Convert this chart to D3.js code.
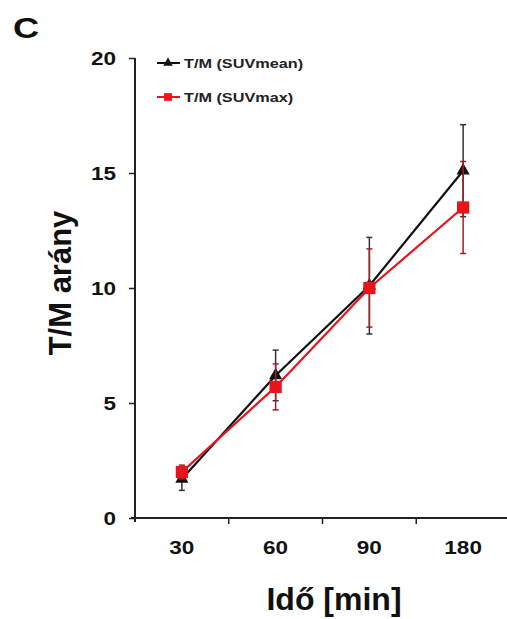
<!DOCTYPE html>
<html>
<head>
<meta charset="utf-8">
<script src="https://cdn.jsdelivr.net/npm/d3@7"></script>
<style>
  body { margin: 0; background: #fff; }
  text { font-family: "Liberation Sans", Arial, sans-serif; font-weight: bold; }
</style>
</head>
<body>
<svg width="507" height="619"></svg>
<script>
var times = ["30", "60", "90", "180"];
var yTicks = [0, 5, 10, 15, 20];

var suvMean = [1.7, 6.2, 10.1, 15.1];
var suvMeanErr = [0.5, 1.1, 2.1, 2.0];
var suvMax = [2.0, 5.7, 10.0, 13.5];
var suvMaxErr = [0.3, 1.0, 1.7, 2.0];

var seriesNames = ["T/M (SUVmean)", "T/M (SUVmax)"];

var svg = d3.select("svg");
var STRETCH = 1.25; // the small text of the original is wide

var x = d3.scaleBand().domain(times).range([135, 510]);
var y = d3.scaleLinear().domain([0, 20]).range([518, 58]);

// axes
var yAxis = d3.axisLeft(y).tickValues(yTicks).tickSize(6).tickSizeOuter(0).tickPadding(0);
var gy = svg.append("g").attr("transform", "translate(135,0)").call(yAxis);
gy.select(".domain").attr("d", "M0,58V522").attr("stroke", "#222").attr("stroke-width", 2);
gy.selectAll(".tick line").attr("stroke", "#222").attr("stroke-width", 1.5);
gy.selectAll(".tick text").attr("font-size", 18).attr("fill", "#111")
  .attr("font-family", "Liberation Sans").attr("font-weight", "bold")
  .attr("x", -19 / STRETCH).attr("dy", "0.35em")
  .attr("transform", "scale(" + STRETCH + ",1)");

var xAxis = d3.axisBottom(x).tickSize(0).tickPadding(0);
var gx = svg.append("g").attr("transform", "translate(0,518)").call(xAxis);
gx.select(".domain").attr("d", "M131,0H510").attr("stroke", "#222").attr("stroke-width", 2);
gx.selectAll(".tick text").attr("font-size", 18).attr("fill", "#111").attr("dy", 0).attr("y", 36)
  .attr("font-family", "Liberation Sans").attr("font-weight", "bold")
  .attr("transform", "scale(" + STRETCH + ",1)");
// tick marks between categories
gx.selectAll("line.sep").data(times.slice(1)).enter().append("line")
  .attr("class", "sep")
  .attr("x1", function(d) { return x(d); })
  .attr("x2", function(d) { return x(d); })
  .attr("y1", 0).attr("y2", 6)
  .attr("stroke", "#222").attr("stroke-width", 1.5);

// titles
svg.append("text").attr("transform", "translate(13,38) scale(" + STRETCH + ",1)")
  .attr("font-size", 29).attr("fill", "#111").text("C");
svg.append("text").attr("x", 334).attr("y", 610).attr("text-anchor", "middle")
  .attr("font-size", 32).attr("fill", "#111").text("Idő [min]");
svg.append("text").attr("transform", "translate(71,283) rotate(-90)").attr("text-anchor", "middle")
  .attr("font-size", 31).attr("fill", "#111").text("T/M arány");

function cx(i) { return x(times[i]) + x.bandwidth() / 2; }

function drawSeries(vals, errs, lineColor, errColor, marker) {
  var g = svg.append("g");
  // error bars
  var eb = g.selectAll("g.err").data(vals).enter().append("g").attr("class", "err");
  eb.append("line")
    .attr("x1", function(d, i) { return cx(i); })
    .attr("x2", function(d, i) { return cx(i); })
    .attr("y1", function(d, i) { return y(d - errs[i]); })
    .attr("y2", function(d, i) { return y(d + errs[i]); })
    .attr("stroke", errColor).attr("stroke-width", 1.5);
  [-1, 1].forEach(function(s) {
    eb.append("line")
      .attr("x1", function(d, i) { return cx(i) - 3; })
      .attr("x2", function(d, i) { return cx(i) + 3; })
      .attr("y1", function(d, i) { return y(d + s * errs[i]); })
      .attr("y2", function(d, i) { return y(d + s * errs[i]); })
      .attr("stroke", errColor).attr("stroke-width", 1.5);
  });
  var line = d3.line().x(function(d, i) { return cx(i); }).y(function(d) { return y(d); });
  g.append("path").datum(vals).attr("d", line).attr("fill", "none")
    .attr("stroke", lineColor).attr("stroke-width", 2.2);
  g.selectAll("path.pt").data(vals).enter().append("path").attr("class", "pt")
    .attr("transform", function(d, i) { return "translate(" + cx(i) + "," + y(d) + ")"; })
    .attr("d", marker).attr("fill", lineColor);
}

var tri = d3.symbol().type(d3.symbolTriangle).size(75)();
var sq = d3.symbol().type(d3.symbolSquare).size(150)();

drawSeries(suvMean, suvMeanErr, "#111", "#333", tri);
drawSeries(suvMax, suvMaxErr, "#e8141c", "#a02028", sq);

// legend
var legend = svg.append("g");
var legendItems = [
  {name: seriesNames[0], color: "#111", marker: d3.symbol().type(d3.symbolTriangle).size(40)()},
  {name: seriesNames[1], color: "#e8141c", marker: d3.symbol().type(d3.symbolSquare).size(60)()}
];
legendItems.forEach(function(d, i) {
  var ly = 63 + i * 34;
  legend.append("line").attr("x1", 157).attr("x2", 180).attr("y1", ly).attr("y2", ly)
    .attr("stroke", d.color).attr("stroke-width", 2);
  legend.append("path").attr("transform", "translate(168," + ly + ")").attr("d", d.marker).attr("fill", d.color);
  legend.append("text").attr("transform", "translate(184," + (ly + 5) + ") scale(" + STRETCH + ",1)")
    .attr("font-size", 13).attr("fill", "#222").text(d.name);
});
</script>
</body>
</html>
